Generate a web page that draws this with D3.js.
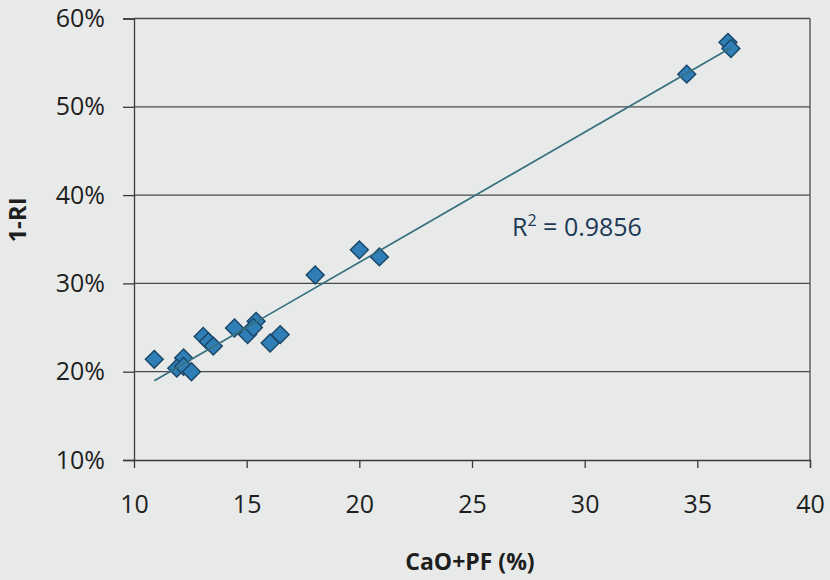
<!DOCTYPE html>
<html>
<head>
<meta charset="utf-8">
<script src="https://cdn.jsdelivr.net/npm/d3@7"></script>
<style>
  html, body { margin: 0; padding: 0; background: #e8eae9; }
  svg { display: block; }
</style>
</head>
<body>
<div id="chart"></div>
<script>
// data
var cao = [10.9, 12.2, 11.9, 12.2, 12.55, 13.07, 13.3, 13.52, 14.46, 15.04, 15.42, 15.3,
           16.04, 16.49, 18.04, 20.0, 20.89, 34.53, 36.36, 36.49];
var oneRI = [21.4, 21.55, 20.4, 20.6, 20.0, 24.0, 23.4, 22.9, 24.95, 24.2, 25.7, 25.0,
             23.25, 24.2, 30.95, 33.8, 33.0, 53.7, 57.3, 56.6];
var xTicks = [10, 15, 20, 25, 30, 35, 40];
var yTicks = [10, 20, 30, 40, 50, 60];
var r2Label = "0.9856";

var width = 830, height = 580;
var margin = { top: 18.5, right: 20, bottom: 120, left: 134 };

var svg = d3.select("#chart").append("svg")
  .attr("width", width)
  .attr("height", height);

svg.append("rect").attr("width", width).attr("height", height).attr("fill", "#e8eae9");

var x = d3.scaleLinear().domain([10, 40]).range([margin.left, 810]);
var y = d3.scaleLinear().domain([10, 60]).range([460, margin.top]);

var font = "'Open Sans', 'DejaVu Sans', sans-serif";
var ink = "#1e1e1e";

// horizontal gridlines
svg.append("g")
  .selectAll("line")
  .data(yTicks.slice(1))
  .enter()
  .append("line")
  .attr("x1", x(10))
  .attr("x2", x(40))
  .attr("y1", d => y(d))
  .attr("y2", d => y(d))
  .attr("stroke", "#4a4a4a")
  .attr("stroke-width", 1.3);

// right border
svg.append("line")
  .attr("x1", x(40)).attr("x2", x(40))
  .attr("y1", y(60)).attr("y2", y(10))
  .attr("stroke", "#4a4a4a").attr("stroke-width", 1.3);

// axes
var xAxis = d3.axisBottom(x).tickValues(xTicks).tickSize(8).tickPadding(27)
  .tickFormat(d3.format("d"));
var yAxis = d3.axisLeft(y).tickValues(yTicks).tickSize(11).tickPadding(18)
  .tickFormat(d => d + "%");

var gx = svg.append("g").attr("transform", `translate(0, ${y(10)})`).call(xAxis);
var gy = svg.append("g").attr("transform", `translate(${x(10)}, 0)`).call(yAxis);

[gx, gy].forEach(function(g) {
  g.select(".domain").attr("stroke", "#3a3a3a").attr("stroke-width", 1.3);
  g.selectAll(".tick line").attr("stroke", "#3a3a3a").attr("stroke-width", 1.3);
  g.selectAll(".tick text")
    .attr("fill", ink)
    .attr("font-family", font)
    .attr("font-size", "25px");
});
gx.select(".tick:first-of-type line").remove();

// markers
var diamond = d3.symbol().type(d3.symbolSquare).size(160);
var points = cao.map((c, i) => ({ x: c, y: oneRI[i] }));

svg.append("g")
  .selectAll("path")
  .data(points)
  .enter()
  .append("path")
  .attr("d", diamond)
  .attr("transform", d => `translate(${x(d.x)}, ${y(d.y)}) rotate(45)`)
  .attr("fill", "#2f7fb6")
  .attr("stroke", "#1b4566")
  .attr("stroke-width", 1.4);

// linear trendline (least squares)
var mx = d3.mean(cao), my = d3.mean(oneRI);
var sxy = d3.sum(cao, (c, i) => (c - mx) * (oneRI[i] - my));
var sxx = d3.sum(cao, c => (c - mx) * (c - mx));
var slope = sxy / sxx, intercept = my - slope * mx;
var xExt = d3.extent(cao);

svg.append("line")
  .attr("x1", x(xExt[0])).attr("y1", y(intercept + slope * xExt[0]))
  .attr("x2", x(xExt[1])).attr("y2", y(intercept + slope * xExt[1]))
  .attr("stroke", "#35707f")
  .attr("stroke-width", 1.7);

// R² label
var r2 = svg.append("text")
  .attr("x", 512)
  .attr("y", 236)
  .attr("font-family", font)
  .attr("font-size", "25px")
  .attr("fill", "#1c3857");
r2.append("tspan").text("R");
r2.append("tspan").attr("font-size", "16px").attr("dy", "-10").text("2");
r2.append("tspan").attr("dy", "10").text(" = " + r2Label);

// axis titles
svg.append("text")
  .attr("x", 470)
  .attr("y", 570)
  .attr("text-anchor", "middle")
  .attr("font-family", font)
  .attr("font-weight", "bold")
  .attr("font-size", "23px")
  .attr("fill", ink)
  .text("CaO+PF (%)");

svg.append("text")
  .attr("transform", "translate(26, 220) rotate(-90)")
  .attr("text-anchor", "middle")
  .attr("font-family", font)
  .attr("font-weight", "bold")
  .attr("font-size", "24px")
  .attr("fill", ink)
  .text("1-RI");
</script>
</body>
</html>
